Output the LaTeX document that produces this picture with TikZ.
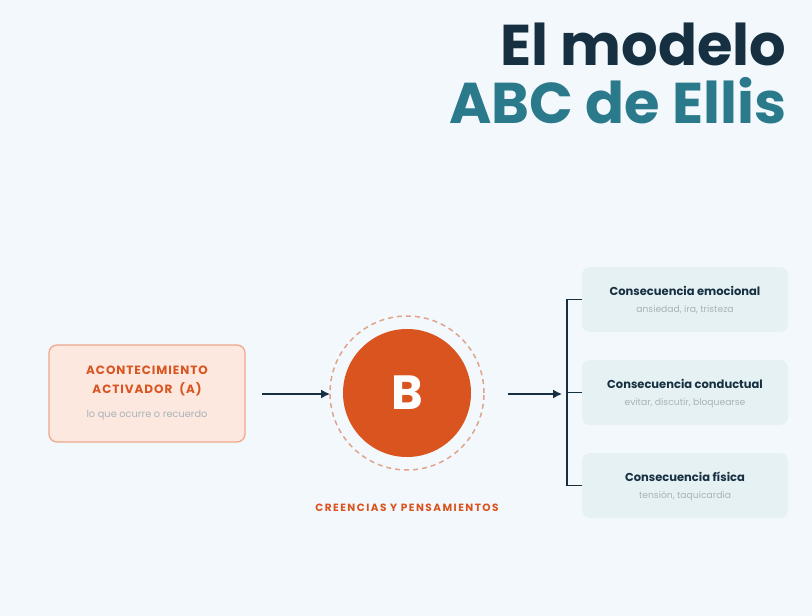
\documentclass[tikz,border=0pt]{standalone}
\usepackage{fontspec}
\setmainfont{Poppins}
\definecolor{bg}{HTML}{F3F8FC}
\definecolor{navy}{HTML}{163042}
\definecolor{teal}{HTML}{2A7A8C}
\definecolor{orng}{HTML}{D9541F}
\definecolor{afill}{HTML}{FDE8E0}
\definecolor{aline}{HTML}{EEA88A}
\definecolor{cfill}{HTML}{E6F1F3}
\definecolor{gry}{HTML}{A9B3B8}
\definecolor{dash}{HTML}{E0A48C}
\begin{document}
\begin{tikzpicture}[x=1pt,y=-1pt,
  cbox/.style={draw=none,fill=cfill,rounded corners=8pt,minimum width=206pt,minimum height=65pt},
  ctitle/.style={font=\fontsize{11.5}{13}\selectfont\bfseries,text=navy},
  csub/.style={font=\fontsize{9.2}{10}\selectfont,text=gry},
  arr/.style={draw=navy,line width=1.4pt,-{Latex[length=9pt,width=9pt]}},
  brk/.style={draw=navy,line width=1.6pt}]
\usetikzlibrary{arrows.meta}
\fill[bg] (0,0) rectangle (812,616);
\useasboundingbox (0,0) rectangle (812,616);
\node[anchor=base east,text=navy,font=\fontsize{57.5}{60}\selectfont\bfseries] (t1) at (790,65) {El modelo};
\node[anchor=base east,text=teal,font=\fontsize{57.5}{60}\selectfont\bfseries] (t2) at (790,123) {ABC de Ellis};
\node[draw=aline,fill=afill,line width=1.3pt,rounded corners=8pt,minimum width=196pt,minimum height=97pt] (A) at (147,393.5) {};
\node[text=orng,align=center,font=\fontsize{12}{19}\selectfont\bfseries\addfontfeatures{LetterSpace=8}] (At) at (147,381) {ACONTECIMIENTO\\ACTIVADOR~~(A)};
\node[text=gry,font=\fontsize{9.8}{11}\selectfont] (As) at (147,415) {lo que ocurre o recuerdo};
\node[circle,draw=dash,dash pattern=on 5pt off 4pt,line width=1.5pt,minimum size=154pt] (Bo) at (407,393) {};
\node[circle,fill=orng,minimum size=128pt,text=white,font=\fontsize{48}{50}\selectfont\bfseries] (B) at (407,393) {B};
\node[text=orng,font=\fontsize{10.5}{12}\selectfont\bfseries\addfontfeatures{LetterSpace=14}] (Bl) at (407,508) {CREENCIAS Y PENSAMIENTOS};
\coordinate (a1) at (262,394);
\coordinate (a2) at (330,394);
\draw[arr] (a1) -- (a2);
\coordinate (b1) at (508,394);
\coordinate (b2) at (562,394);
\draw[arr] (b1) -- (b2);
\node[cbox] (C1) at (685,299.5) {};
\node[cbox] (C2) at (685,392.5) {};
\node[cbox] (C3) at (685,485.5) {};
\node[ctitle] at (685,291) {Consecuencia emocional};
\node[csub] at (685,310) {ansiedad, ira, tristeza};
\node[ctitle] at (685,384) {Consecuencia conductual};
\node[csub] at (685,403) {evitar, discutir, bloquearse};
\node[ctitle] at (685,477) {Consecuencia física};
\node[csub] at (685,496) {tensión, taquicardia};
\draw[brk] (C1.west) -- (567,299.5) -- (567,485.5) -- (C3.west);
\draw[brk] (567,392.5) -- (C2.west);
\end{tikzpicture}
\end{document}
